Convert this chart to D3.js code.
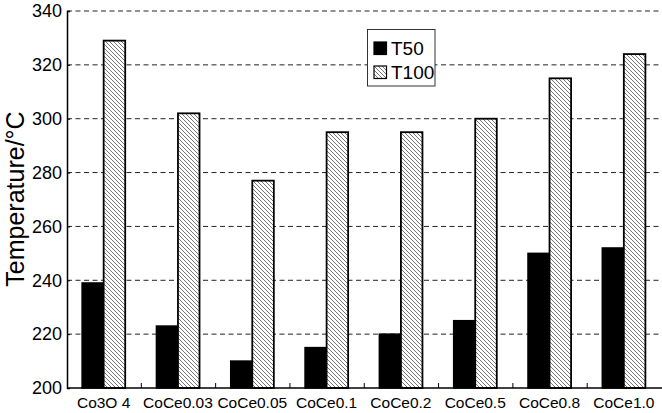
<!DOCTYPE html>
<html>
<head>
<meta charset="utf-8">
<script src="https://cdn.jsdelivr.net/npm/d3@7"></script>
<style>
html,body{margin:0;padding:0;background:#fff;}
svg{display:block;font-family:"Liberation Sans",Arial,sans-serif;}
</style>
</head>
<body>
<svg id="chart" width="662" height="413"></svg>
<script>
const categories = ["Co3O 4","CoCe0.03","CoCe0.05","CoCe0.1","CoCe0.2","CoCe0.5","CoCe0.8","CoCe1.0"];
const t50 = [239,223,210,215,220,225,250,252];
const t100 = [329,302,277,295,295,300,315,324];
const yTicks = [200,220,240,260,280,300,320,340];
const seriesNames = ["T50","T100"];

const svg = d3.select("#chart");
const L = 67, R = 661.5, T = 11, B = 388;

const x = d3.scaleBand().domain(categories).range([L, R]).padding(0);
const y = d3.scaleLinear().domain([200, 340]).range([B, T]);

const defs = svg.append("defs");
const pat = defs.append("pattern").attr("id","hatch").attr("patternUnits","userSpaceOnUse")
  .attr("width",4).attr("height",4);
pat.append("rect").attr("width",4).attr("height",4).attr("fill","#fff");
pat.append("path").attr("d","M-1,-1 L5,5 M-1,3 L1,5 M3,-1 L5,1")
  .attr("stroke","#666").attr("stroke-width",0.9);

// gridlines
svg.append("g").selectAll("line").data(yTicks.filter(d => d > 200)).join("line")
  .attr("x1", L).attr("x2", 662).attr("y1", d => y(d)).attr("y2", d => y(d))
  .attr("stroke","#222").attr("stroke-width",1).attr("stroke-dasharray","5,3.5");

const barW = x.bandwidth() * 0.29;

const g = svg.append("g");
categories.forEach((c, i) => {
  const cx = x(c) + x.bandwidth() / 2 - 0.5;
  g.append("rect").attr("x", cx - barW).attr("y", y(t50[i]))
    .attr("width", barW).attr("height", y(200) - y(t50[i]))
    .attr("fill","#000").attr("stroke","#000").attr("stroke-width",1.5);
  g.append("rect").attr("x", cx).attr("y", y(t100[i]))
    .attr("width", barW).attr("height", y(200) - y(t100[i]))
    .attr("fill","url(#hatch)").attr("stroke","#000").attr("stroke-width",1.8);
});

// axes
const yAxis = d3.axisLeft(y).tickValues(yTicks).tickSize(-3).tickPadding(5);
const ya = svg.append("g").attr("transform", `translate(${L},0)`).call(yAxis);
ya.select(".domain").attr("stroke","#000").attr("stroke-width",1.5);
ya.selectAll("text").attr("font-size", 18).attr("fill","#000")
  .attr("font-family","Liberation Sans, Arial, sans-serif");
ya.selectAll(".tick line").attr("stroke","#000");

const xa = svg.append("g");
xa.append("line").attr("x1", L).attr("x2", 662).attr("y1", B).attr("y2", B)
  .attr("stroke","#000").attr("stroke-width",1.5);
xa.selectAll("line.tk").data(categories.slice(1)).join("line").attr("class","tk")
  .attr("x1", d => x(d)).attr("x2", d => x(d)).attr("y1", B).attr("y2", B - 5)
  .attr("stroke","#000").attr("stroke-width",1);
xa.selectAll("text").data(categories).join("text")
  .attr("x", d => x(d) + x.bandwidth() / 2 - 0.5).attr("y", 408)
  .attr("text-anchor","middle").attr("font-size", 15.5).attr("fill","#000").text(d => d);

svg.append("text").attr("transform","translate(24,199) rotate(-90)")
  .attr("text-anchor","middle").attr("font-size", 25).attr("fill","#000")
  .text("Temperature/°C");

// legend
const lg = svg.append("g");
lg.append("rect").attr("x",367.5).attr("y",29.5).attr("width",67.5).attr("height",56.5)
  .attr("fill","#fff").attr("stroke","#333").attr("stroke-width",1);
seriesNames.forEach((s, i) => {
  const yy = 42 + i * 24;
  lg.append("rect").attr("x",374).attr("y",yy).attr("width",12.5).attr("height",12.5)
    .attr("fill", i === 0 ? "#000" : "url(#hatch)").attr("stroke","#000").attr("stroke-width",1.2);
  lg.append("text").attr("x",391).attr("y",yy + 13).attr("font-size",19).attr("fill","#000").text(s);
});
</script>
</body>
</html>
